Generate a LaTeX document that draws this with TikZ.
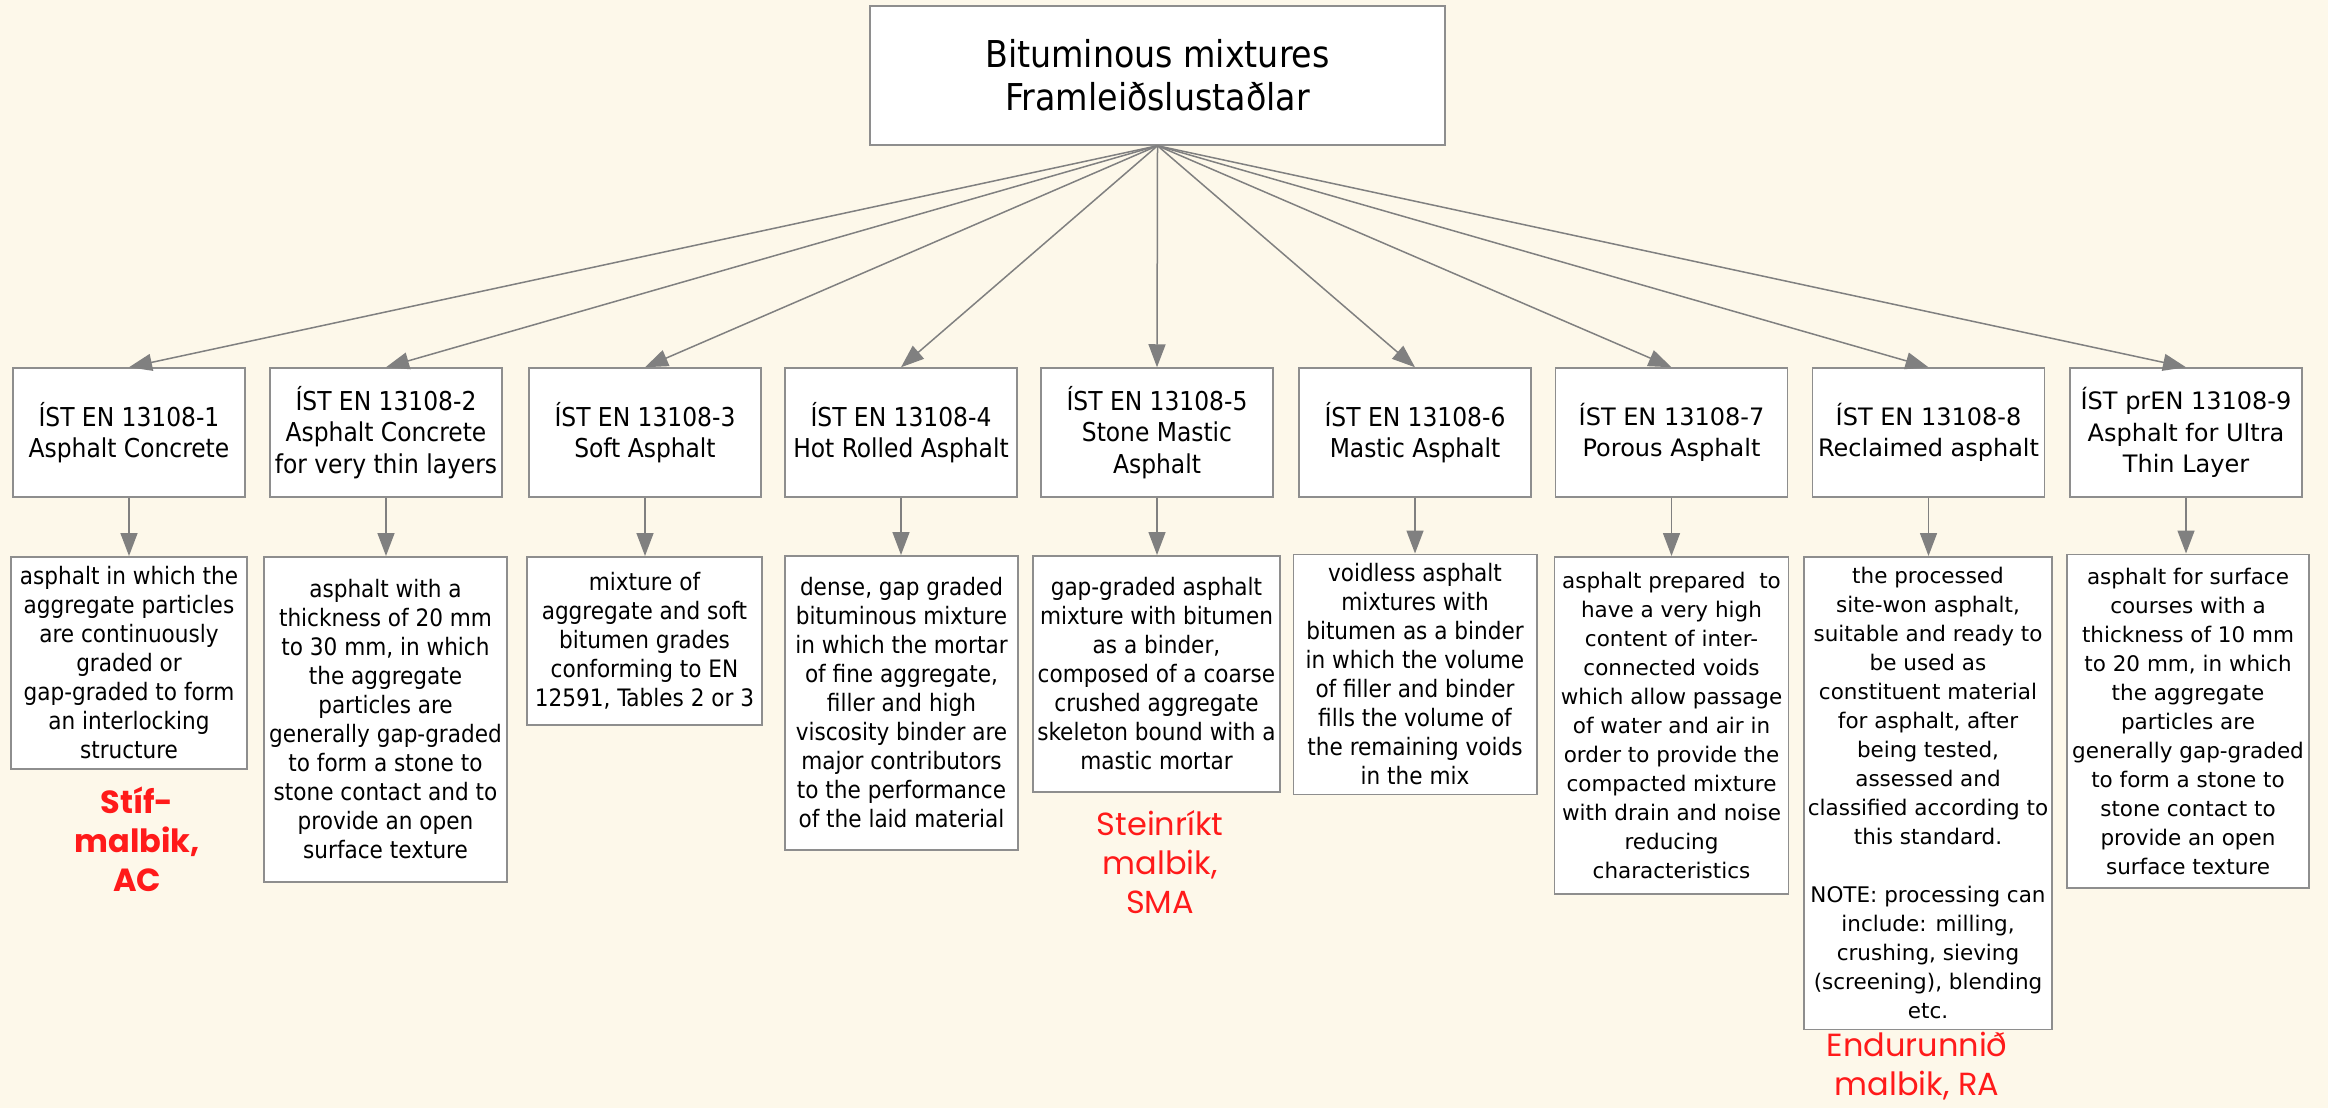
\documentclass[tikz,border=0pt]{standalone}
\usepackage{fontspec}
\setmainfont{DejaVu Sans}
\newfontfamily\condfont{DejaVu Sans Condensed}
\newfontfamily\popfont{Poppins}
\usetikzlibrary{arrows.meta}
\definecolor{bgc}{HTML}{FDF8EA}
\definecolor{bdc}{HTML}{8E8E8E}
\definecolor{arc}{HTML}{808080}
\definecolor{redc}{HTML}{FF1A1A}
\begin{document}
\begin{tikzpicture}[x=1pt,y=1pt,
  box/.style={draw=bdc, line width=1.5pt, fill=white, align=center, inner sep=2pt},
  tbox/.style={box, minimum width=232pt, minimum height=129pt, anchor=center},
  dbox/.style={box, anchor=north},
  ctitle/.style={font=\condfont\fontsize{26}{31.5}\selectfont},
  wtitle/.style={font=\fontsize{24}{31.5}\selectfont},
  cdesc/.style={font=\condfont\fontsize{24}{29}\selectfont},
  wdesc/.style={font=\fontsize{21.5}{29}\selectfont},
  redlab/.style={text=redc, align=center, font=\popfont\fontsize{32}{39}\selectfont},
  arr/.style={draw=arc, line width=1.5pt, -{Triangle[length=23pt,width=17pt]}}
]
\fill[bgc] (0,0) rectangle (2328,-1108);
\useasboundingbox (0,0) rectangle (2328,-1108);

\node[box, anchor=center, minimum width=575pt, minimum height=139pt,
  font=\condfont\fontsize{37}{43}\selectfont] (top) at (1157.5,-75.5)
  {Bituminous mixtures\\Framleiðslustaðlar};

\node[tbox, ctitle] (b1) at (129,-432.5) {ÍST EN 13108-1\\Asphalt Concrete};
\node[tbox, ctitle] (b2) at (386,-432.5) {ÍST EN 13108-2\\Asphalt Concrete\\for very thin layers};
\node[tbox, ctitle] (b3) at (645,-432.5) {ÍST EN 13108-3\\Soft Asphalt};
\node[tbox, ctitle] (b4) at (901,-432.5) {ÍST EN 13108-4\\Hot Rolled Asphalt};
\node[tbox, ctitle] (b5) at (1157,-432.5) {ÍST EN 13108-5\\Stone Mastic\\Asphalt};
\node[tbox, ctitle] (b6) at (1415,-432.5) {ÍST EN 13108-6\\Mastic Asphalt};
\node[tbox, wtitle] (b7) at (1671.5,-432.5) {ÍST EN 13108-7\\Porous Asphalt};
\node[tbox, wtitle] (b8) at (1928.5,-432.5) {ÍST EN 13108-8\\Reclaimed asphalt};
\node[tbox, wtitle] (b9) at (2186,-432.5) {ÍST prEN 13108-9\\Asphalt for Ultra\\Thin Layer};

\node[dbox, cdesc, minimum width=236pt, minimum height=212pt] (d1) at (129,-556)
  {asphalt in which the\\aggregate particles\\are continuously\\graded or\\gap-graded to form\\an interlocking\\structure};
\node[dbox, cdesc, minimum width=243pt, minimum height=325pt] (d2) at (385.5,-556)
  {asphalt with a\\thickness of 20 mm\\to 30 mm, in which\\the aggregate\\particles are\\generally gap-graded\\to form a stone to\\stone contact and to\\provide an open\\surface texture};
\node[dbox, cdesc, minimum width=235pt, minimum height=168pt] (d3) at (644.5,-556)
  {mixture of\\aggregate and soft\\bitumen grades\\conforming to EN\\12591, Tables 2 or 3};
\node[dbox, cdesc, minimum width=233pt, minimum height=294pt] (d4) at (901.5,-555)
  {dense, gap graded\\bituminous mixture\\in which the mortar\\of fine aggregate,\\filler and high\\viscosity binder are\\major contributors\\to the performance\\of the laid material};
\node[dbox, cdesc, minimum width=247pt, minimum height=236pt] (d5) at (1156.5,-555)
  {gap-graded asphalt\\mixture with bitumen\\as a binder,\\composed of a coarse\\crushed aggregate\\skeleton bound with a\\mastic mortar};
\node[dbox, cdesc, minimum width=243.5pt, minimum height=240pt] (d6) at (1415,-553.5)
  {voidless asphalt\\mixtures with\\bitumen as a binder\\in which the volume\\of filler and binder\\fills the volume of\\the remaining voids\\in the mix};
\node[dbox, wdesc, minimum width=234pt, minimum height=337pt] (d7) at (1671.5,-556)
  {asphalt prepared\ \ to\\have a very high\\content of inter-\\connected voids\\which allow passage\\of water and air in\\order to provide the\\compacted mixture\\with drain and noise\\reducing\\characteristics};
\node[dbox, wdesc, minimum width=248pt, minimum height=472.6pt] (d8) at (1928,-556)
  {the processed\\site-won asphalt,\\suitable and ready to\\be used as\\constituent material\\for asphalt, after\\being tested,\\assessed and\\classified according to\\this standard.\\[29pt]NOTE: processing can\\include: milling,\\crushing, sieving\\(screening), blending\\etc.};
\node[dbox, wdesc, minimum width=241.7pt, minimum height=333.5pt] (d9) at (2188,-553.5)
  {asphalt for surface\\courses with a\\thickness of 10 mm\\to 20 mm, in which\\the aggregate\\particles are\\generally gap-graded\\to form a stone to\\stone contact to\\provide an open\\surface texture};

\node[redlab, font=\popfont\bfseries\fontsize{32}{39}\selectfont] (ac) at (137,-839) {Stíf-\\malbik,\\AC};
\node[redlab] (sma) at (1160,-862) {Steinríkt\\malbik,\\SMA};
\node[redlab] (ra) at (1917,-1066) {Endurunnið\\malbik, RA};

\foreach \i in {1,...,9} {
  \draw[arr] (top.south) -- (b\i.north);
  \draw[arr] (b\i.south) -- (b\i.south |- d\i.north);
}
\end{tikzpicture}
\end{document}
